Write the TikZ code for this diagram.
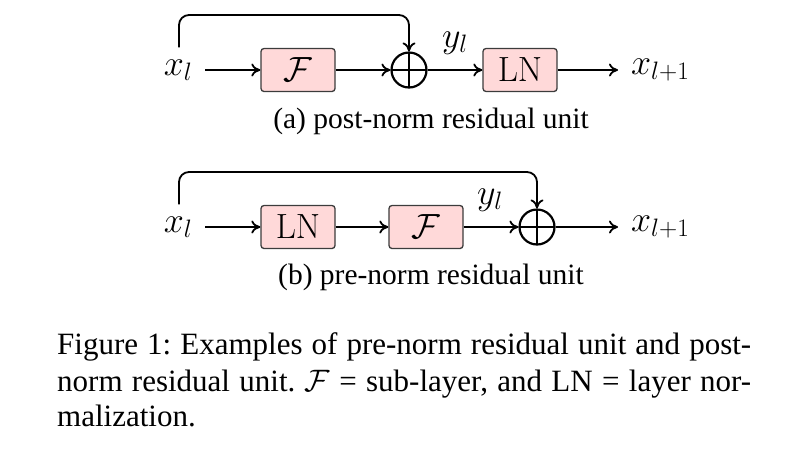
\RequirePackage{fix-cm}
\documentclass[tikz,border=0pt]{standalone}
\usepackage[no-math]{fontspec}
\setmainfont{Liberation Serif}
\usetikzlibrary{arrows.meta}
\definecolor{boxpink}{RGB}{255,217,217}
\definecolor{boxedge}{RGB}{60,60,60}
\tikzset{
  blk/.style={draw=boxedge, fill=boxpink, rounded corners=3pt, minimum width=74pt,
    minimum height=43pt, line width=1.3pt, inner sep=0pt, font=\fontsize{35}{40}\selectfont},
  lab/.style={inner sep=0pt, font=\fontsize{36}{42}\selectfont},
  plus/.style={circle, draw, line width=2.2pt, minimum size=35pt, inner sep=0pt,
    path picture={\draw[line width=2pt] (path picture bounding box.north) -- (path picture bounding box.south)
      (path picture bounding box.west) -- (path picture bounding box.east);}},
  arr/.style={-{To[length=9pt,width=13pt]}, line width=1.8pt},
  skip/.style={arr, rounded corners=10pt},
  sub/.style={inner sep=0pt, font=\fontsize{29.5}{34}\selectfont},
  capline/.style={inner sep=0pt, anchor=base west, font=\fontsize{31}{35}\selectfont\frenchspacing},
}
\begin{document}
\begin{tikzpicture}[x=1pt,y=-1pt]
\useasboundingbox (0,0) rectangle (790,448);
% (a) post-norm
\node[lab] (xa) at (178,70) {$x_l$};
\node[blk] (Fa) at (298,70) {$\mathcal{F}$};
\node[plus] (oa) at (409,70) {};
\node[blk] (LNa) at (520,70) {$\mathrm{LN}$};
\node[lab, anchor=west] (xa1) at (631,70) {$x_{l+1}$};
\node[lab] (ya) at (455,43) {$y_l$};
\coordinate (ta) at (409,15);
\draw[arr, shorten <=13pt] (xa) -- (Fa);
\draw[arr] (Fa) -- (oa);
\draw[arr] (oa) -- (LNa);
\draw[arr, shorten >=13pt] (LNa) -- (xa1);
\draw[skip] ([shift={(1pt,12pt)}]xa.north) |- (ta) -- (oa.north);
\node[sub] (capa) at (431,121) {(a) post-norm residual unit};
% (b) pre-norm
\node[lab] (xb) at (178,227) {$x_l$};
\node[blk] (LNb) at (298,227) {$\mathrm{LN}$};
\node[blk] (Fb) at (426,227) {$\mathcal{F}$};
\node[plus] (ob) at (537,227) {};
\node[lab, anchor=west] (xb1) at (631,227) {$x_{l+1}$};
\node[lab] (yb) at (490,200) {$y_l$};
\coordinate (tb) at (537,172);
\draw[arr, shorten <=13pt] (xb) -- (LNb);
\draw[arr] (LNb) -- (Fb);
\draw[arr] (Fb) -- (ob);
\draw[arr, shorten >=13pt] (ob) -- (xb1);
\draw[skip] ([shift={(1pt,12pt)}]xb.north) |- (tb) -- (ob.north);
\node[sub] (capb) at (431,277) {(b) pre-norm residual unit};
% figure caption
\node[capline] (cap1) at (57,354)
  {\makebox[694pt][s]{Figure 1: Examples of pre-norm residual unit and post-}};
\node[capline] (cap2) at (57,391)
  {\makebox[694pt][s]{norm residual unit. $\mathcal{F}$ = sub-layer, and LN = layer nor-}};
\node[capline] (cap3) at (57,426) {malization.};
\end{tikzpicture}
\end{document}
